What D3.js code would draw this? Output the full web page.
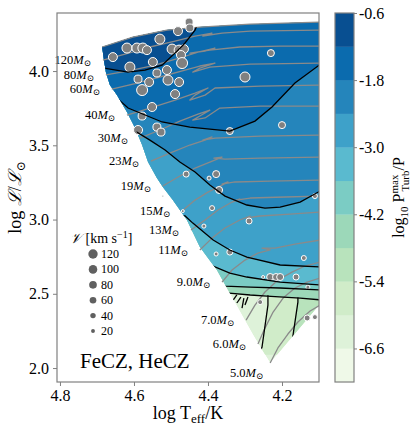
<!DOCTYPE html>
<html>
<head>
<meta charset="utf-8">
<script src="https://cdn.jsdelivr.net/npm/d3@7"></script>
<style>
body { margin: 0; background: #fff; }
text { font-family: "Liberation Serif", "DejaVu Serif", serif; fill: #000; }
</style>
</head>
<body>
<div id="chart"></div>
<script>
// ---- data (log Teff, log L) ----
var zams = [[4.686,4.162],[4.681,4.074],[4.676,3.993],[4.665,3.906],[4.646,3.838],[4.619,3.724],
    [4.597,3.616],[4.578,3.502],[4.562,3.387],[4.538,3.279],[4.522,3.219],[4.495,3.131],
    [4.457,2.997],[4.422,2.815],[4.376,2.660],[4.343,2.512],[4.278,2.222],[4.232,2.034]];
var topEdge = [[4.686,4.162],[4.603,4.229],[4.511,4.276],[4.422,4.296],[4.286,4.316],[4.1,4.330]];
var rightEdge = [[4.1,4.330],[4.1,2.424]];

// contour lines of log10 Pturb/P
var cLine1 = [[4.70,4.022],[4.681,4.020],[4.616,3.993],[4.570,4.007],[4.524,4.040],[4.489,4.121],[4.462,4.189],[4.435,4.276],[4.424,4.343]];
var cLine2 = [[4.67,3.83],[4.649,3.825],[4.616,3.751],[4.524,3.657],[4.449,3.623],[4.341,3.596],[4.273,3.663],[4.227,3.758],[4.165,3.919],[4.092,4.054]];
var cLine3 = [[4.61,3.595],[4.592,3.589],[4.557,3.535],[4.516,3.468],[4.476,3.387],[4.435,3.320],[4.395,3.232],[4.354,3.158],[4.295,3.098],[4.246,3.077],[4.205,3.084],[4.151,3.118],[4.092,3.199]];
var cLine4 = [[4.48,3.03],[4.462,3.024],[4.441,2.976],[4.386,2.862],[4.341,2.795],[4.295,2.747],[4.205,2.694],[4.092,2.680]];
var cLine5 = [[4.40,2.69],[4.386,2.687],[4.341,2.640],[4.295,2.613],[4.205,2.579],[4.092,2.559]];
var cLine6 = [[4.37,2.555],[4.354,2.552],[4.286,2.545],[4.205,2.539],[4.092,2.525]];
var cLine7 = [[4.36,2.507],[4.343,2.505],[4.286,2.492],[4.241,2.485],[4.151,2.471],[4.092,2.458]];
var cLine8 = [[4.157,2.475],[4.157,2.444],[4.173,2.175],[4.180,2.11]];
var cLine9 = [[4.238,2.49],[4.238,2.424],[4.254,2.141],[4.262,2.09]];
var contourLevels = [-1.2, -1.8, -2.4, -3.0, -3.6, -4.2, -4.8, -5.4, -6.0];
var contourSide = ["up", "up", "up", "up", "up", "up", "up", "right", "right"];
var contourPts = [cLine1, cLine2, cLine3, cLine4, cLine5, cLine6, cLine7, cLine8, cLine9];
var hatchLines = [[[4.322,2.492],[4.332,2.458]],[[4.311,2.478],[4.322,2.438]],
    [[4.303,2.471],[4.308,2.404]],[[4.292,2.478],[4.300,2.424]]];

// colorbar
var cbLevels = d3.range(12).map(function(i) { return -7.2 + 0.6 * i; });
var cbTicks = [-0.6, -1.8, -3.0, -4.2, -5.4, -6.6];

// evolutionary tracks
var masses = ["120", "80", "60", "40", "30", "23", "19", "15", "13", "11", "9.0", "7.0", "6.0", "5.0"];
var tracks = [
  [[4.684,4.074],[4.624,4.114],[4.557,4.162],[4.489,4.202],[4.435,4.236],[4.389,4.256],[4.414,4.236],[4.362,4.256],[4.286,4.269],[4.097,4.276]],
  [[4.676,3.975],[4.611,4.003],[4.543,4.040],[4.476,4.088],[4.427,4.128],[4.381,4.155],[4.408,4.135],[4.449,4.121],[4.395,4.141],[4.314,4.162],[4.205,4.168],[4.097,4.168]],
  [[4.660,3.878],[4.597,3.915],[4.530,3.960],[4.462,4.007],[4.422,4.034],[4.381,4.054],[4.422,4.020],[4.441,3.993],[4.395,4.027],[4.286,4.047],[4.097,4.054]],
  [[4.619,3.704],[4.557,3.751],[4.489,3.805],[4.435,3.852],[4.400,3.886],[4.435,3.838],[4.449,3.805],[4.408,3.838],[4.381,3.886],[4.259,3.899],[4.097,3.906]],
  [[4.584,3.549],[4.530,3.603],[4.476,3.663],[4.427,3.710],[4.395,3.737],[4.422,3.697],[4.441,3.670],[4.408,3.684],[4.368,3.751],[4.259,3.764],[4.097,3.764]],
  [[4.554,3.394],[4.503,3.448],[4.449,3.502],[4.408,3.535],[4.389,3.556],[4.414,3.535],[4.381,3.549],[4.259,3.562],[4.097,3.569]],
  [[4.522,3.226],[4.476,3.293],[4.435,3.347],[4.395,3.387],[4.362,3.421],[4.384,3.414],[4.354,3.407],[4.259,3.414],[4.097,3.421]],
  [[4.470,3.057],[4.435,3.131],[4.400,3.185],[4.362,3.232],[4.346,3.253],[4.362,3.239],[4.327,3.253],[4.232,3.259],[4.097,3.266]],
  [[4.446,2.929],[4.408,2.997],[4.373,3.064],[4.335,3.118],[4.314,3.138],[4.324,3.131],[4.286,3.145],[4.192,3.152],[4.097,3.158]],
  [[4.422,2.795],[4.389,2.875],[4.354,2.943],[4.314,2.997],[4.286,3.024],[4.300,3.010],[4.259,3.024],[4.178,3.037],[4.097,3.051]],
  [[4.362,2.579],[4.335,2.660],[4.300,2.727],[4.265,2.774],[4.232,2.795],[4.254,2.808],[4.219,2.808],[4.165,2.835],[4.097,2.862]],
  [[4.297,2.323],[4.273,2.424],[4.246,2.512],[4.211,2.593],[4.173,2.646],[4.138,2.687],[4.097,2.714]],
  [[4.265,2.162],[4.246,2.269],[4.224,2.377],[4.197,2.471],[4.165,2.539],[4.132,2.579],[4.097,2.606]],
  [[4.232,2.034],[4.211,2.135],[4.184,2.229],[4.157,2.310],[4.124,2.384],[4.097,2.424]]
];

// observed stars: log Teff, log L, v sin i [km/s]
var stars = [[4.451,4.330,87],[4.449,4.290,87],[4.481,4.269,110],[4.530,4.215,136],[4.657,4.094,110],
  [4.619,4.155,136],[4.592,4.155,136],[4.576,4.155,136],[4.565,4.141,110],[4.497,4.148,136],
  [4.478,4.141,136],[4.465,4.148,110],[4.473,4.108,110],[4.470,4.054,164],[4.549,4.061,110],
  [4.611,4.027,136],[4.511,4.007,110],[4.538,3.987,87],[4.589,3.946,87],[4.559,3.926,110],
  [4.508,3.939,136],[4.478,3.926,110],[4.578,3.872,164],[4.489,3.845,110],[4.551,3.758,110],
  [4.578,3.697,87],[4.589,3.603,110],[4.538,3.623,87],[4.527,3.589,87],[4.230,4.121,67],
  [4.300,3.960,136],[4.341,3.596,67],[4.200,3.636,67],[4.459,3.306,49],[4.397,3.279,22],
  [4.378,3.306,67],[4.370,3.199,67],[4.389,3.077,34],[4.468,3.057,12],[4.522,3.158,5],
  [4.289,2.990,49],[4.111,3.158,34],[4.411,2.956,22],[4.378,2.768,22],[4.341,2.781,49],
  [4.141,2.741,34],[4.251,2.613,12],[4.232,2.613,67],[4.216,2.613,67],[4.205,2.613,67],
  [4.162,2.613,49],[4.130,2.545,22],[4.259,2.444,34],[4.132,2.337,49],[4.111,2.343,34]];
var legendV = [120, 100, 80, 60, 40, 20];

(function() {
    var width = 417, height = 433;
    var left = 57, right = 319, top = 13, bottom = 382;

    var svg = d3.select("#chart").append("svg")
        .attr("width", width)
        .attr("height", height);

    var x = d3.scaleLinear().domain([4.808, 4.1]).range([left, right]);
    var y = d3.scaleLinear().domain([1.906, 4.391]).range([bottom, top]);
    var rScale = d3.scaleSqrt().domain([0, 120]).range([0, 4.7]);

    var gnbu = ["#f7fcf0","#e0f3db","#ccebc5","#a8ddb5","#7bccc4","#4eb3d3","#2b8cbe","#0868ac","#084081"];
    var cmap = d3.scaleLinear().domain(d3.range(9).map(function(i) { return i / 8; })).range(gnbu);
    function bandColor(lo) {
        var k = Math.round((lo + 7.2) / 0.6);
        return cmap((k + 0.5) / 11);
    }

    var line = d3.line().x(function(d) { return x(d[0]); }).y(function(d) { return y(d[1]); });

    var defs = svg.append("defs");
    defs.append("clipPath").attr("id", "plotclip")
        .append("rect").attr("x", left).attr("y", top)
        .attr("width", right - left).attr("height", bottom - top);
    var region = topEdge.concat(rightEdge, zams.slice().reverse());
    defs.append("clipPath").attr("id", "regionclip")
        .append("path").attr("d", line(region) + "Z");

    // filled contour bands
    var bands = svg.append("g").attr("clip-path", "url(#regionclip)");
    bands.append("path").attr("d", line(region) + "Z").attr("fill", bandColor(-6.6));

    var order = d3.range(contourLevels.length).sort(function(a, b) {
        return contourLevels[a] - contourLevels[b];
    });
    order.forEach(function(i) {
        var p = contourPts[i], a = p[0], b = p[p.length - 1], poly;
        if (contourSide[i] === "right") poly = p.concat([[3.9, b[1]], [3.9, a[1]]]);
        else poly = p.concat([[b[0], 4.7], [4.95, 4.7], [4.95, a[1]]]);
        bands.append("path").attr("d", line(poly) + "Z").attr("fill", bandColor(contourLevels[i]));
    });

    var plot = svg.append("g").attr("clip-path", "url(#plotclip)");

    // tracks
    plot.append("path").attr("d", line(topEdge))
        .attr("fill", "none").attr("stroke", "#8a8a8a").attr("stroke-width", 1.3);
    plot.selectAll(".track")
        .data(tracks)
        .enter().append("path")
        .attr("class", "track")
        .attr("d", line)
        .attr("fill", "none")
        .attr("stroke", "#8a8a8a")
        .attr("stroke-width", 1.3)
        .attr("stroke-linejoin", "round");

    // contour lines
    var clines = svg.append("g").attr("clip-path", "url(#regionclip)");
    clines.selectAll(".cline")
        .data(contourPts.concat(hatchLines))
        .enter().append("path")
        .attr("class", "cline")
        .attr("d", line)
        .attr("fill", "none")
        .attr("stroke", "#000")
        .attr("stroke-width", 1.3);

    // stars
    plot.selectAll(".star")
        .data(stars)
        .enter().append("circle")
        .attr("class", "star")
        .attr("cx", function(d) { return x(d[0]); })
        .attr("cy", function(d) { return y(d[1]); })
        .attr("r", function(d) { return rScale(d[2]); })
        .attr("fill", "#808080")
        .attr("stroke", "#fff")
        .attr("stroke-width", 1);

    // mass labels
    var mlab = svg.selectAll(".mlab")
        .data(masses)
        .enter().append("text")
        .attr("class", "mlab")
        .attr("x", function(d, i) { return x(tracks[i][0][0]) - (d === "5.0" ? 7 : 12); })
        .attr("y", function(d, i) { return y(tracks[i][0][1]) + (d === "5.0" ? 14 : 4); })
        .attr("text-anchor", "end")
        .style("font-size", "12.5px");
    mlab.append("tspan").text(function(d) { return d; });
    mlab.append("tspan").style("font-style", "italic").text("M");
    mlab.append("tspan").attr("dy", 2).style("font-size", "8.5px").text("\u2299");

    // frame and axes
    var xAxis = svg.append("g").attr("transform", "translate(0," + bottom + ")")
        .call(d3.axisBottom(x).tickValues([4.8, 4.6, 4.4, 4.2]).tickFormat(d3.format(".1f"))
            .tickSizeInner(4).tickSizeOuter(0).tickPadding(4));
    var yAxis = svg.append("g").attr("transform", "translate(" + left + ",0)")
        .call(d3.axisLeft(y).tickValues([2.0, 2.5, 3.0, 3.5, 4.0]).tickFormat(d3.format(".1f"))
            .tickSizeInner(4).tickSizeOuter(0).tickPadding(4));
    [xAxis, yAxis].forEach(function(g) {
        g.select(".domain").remove();
        g.selectAll(".tick line").attr("stroke", "#808080");
        g.selectAll(".tick text").style("font-size", "16px")
            .style("font-family", "'Liberation Serif', serif");
    });
    svg.append("rect").attr("x", left).attr("y", top)
        .attr("width", right - left).attr("height", bottom - top)
        .attr("fill", "none").attr("stroke", "#808080").attr("stroke-width", 1.2);

    // axis labels
    var xl = svg.append("text").attr("x", (left + right) / 2).attr("y", 419)
        .attr("text-anchor", "middle").style("font-size", "18px");
    xl.append("tspan").text("log T");
    xl.append("tspan").attr("dy", 4).style("font-size", "13px").text("eff");
    xl.append("tspan").attr("dy", -4).text("/K");

    var yl = svg.append("text").attr("transform", "translate(21," + (top + bottom) / 2 + ") rotate(-90)")
        .attr("text-anchor", "middle").style("font-size", "18px");
    yl.append("tspan").text("log ");
    yl.append("tspan").style("font-style", "italic").text("\u2112");
    yl.append("tspan").text("/");
    yl.append("tspan").style("font-style", "italic").text("\u2112");
    yl.append("tspan").attr("dy", 4).style("font-size", "12px").text("\u2299");

    // velocity legend
    var lg = svg.append("g");
    var lt = lg.append("text").attr("x", 70).attr("y", 243).style("font-size", "14px");
    lt.append("tspan").style("font-style", "italic").text("\ud835\udcb1");
    lt.append("tspan").text(" [km s");
    lt.append("tspan").attr("dy", -5).style("font-size", "10px").text("\u22121");
    lt.append("tspan").attr("dy", 5).text("]");
    var li = lg.selectAll(".lv").data(legendV).enter().append("g")
        .attr("transform", function(d, i) { return "translate(93," + (254 + i * 15.4) + ")"; });
    li.append("circle").attr("r", function(d) { return rScale(d); }).attr("fill", "#606060");
    li.append("text").attr("x", 8).attr("y", 4).style("font-size", "12px").text(function(d) { return d; });

    svg.append("text").attr("x", 80).attr("y", 368).style("font-size", "21px").text("FeCZ, HeCZ");

    // colorbar
    var cbX = 335, cbW = 19;
    var cy = d3.scaleLinear().domain([-7.2, -0.6]).range([bottom, top]);
    svg.selectAll(".cb").data(cbLevels.slice(0, 11)).enter().append("rect")
        .attr("class", "cb")
        .attr("x", cbX).attr("width", cbW)
        .attr("y", function(d) { return cy(d + 0.6); })
        .attr("height", function(d) { return cy(d) - cy(d + 0.6) + 0.3; })
        .attr("fill", function(d) { return bandColor(d); });
    svg.append("rect").attr("x", cbX).attr("y", top).attr("width", cbW).attr("height", bottom - top)
        .attr("fill", "none").attr("stroke", "#808080").attr("stroke-width", 1.2);
    var cbAxis = svg.append("g").attr("transform", "translate(" + (cbX + cbW) + ",0)")
        .call(d3.axisRight(cy).tickValues(cbTicks).tickFormat(function(d) { return d.toFixed(1).replace("\u2212", "-"); })
            .tickSizeInner(3).tickSizeOuter(0).tickPadding(2));
    cbAxis.select(".domain").remove();
    cbAxis.selectAll(".tick line").attr("stroke", "#808080");
    cbAxis.selectAll(".tick text").style("font-size", "16px").style("font-family", "'Liberation Serif', serif");

    var cl = svg.append("text").attr("transform", "translate(404," + (top + bottom) / 2 + ") rotate(-90)")
        .attr("text-anchor", "middle").style("font-size", "16px");
    cl.append("tspan").text("log");
    cl.append("tspan").attr("dy", 4).style("font-size", "11px").text("10");
    cl.append("tspan").attr("dy", -4).text(" P");
    cl.append("tspan").attr("dy", -6).style("font-size", "11px").text("max");
    cl.append("tspan").attr("dx", -17).attr("dy", 11).style("font-size", "11px").text("Turb");
    cl.append("tspan").attr("dy", -5).text("/P");
})();
</script>
</body>
</html>
